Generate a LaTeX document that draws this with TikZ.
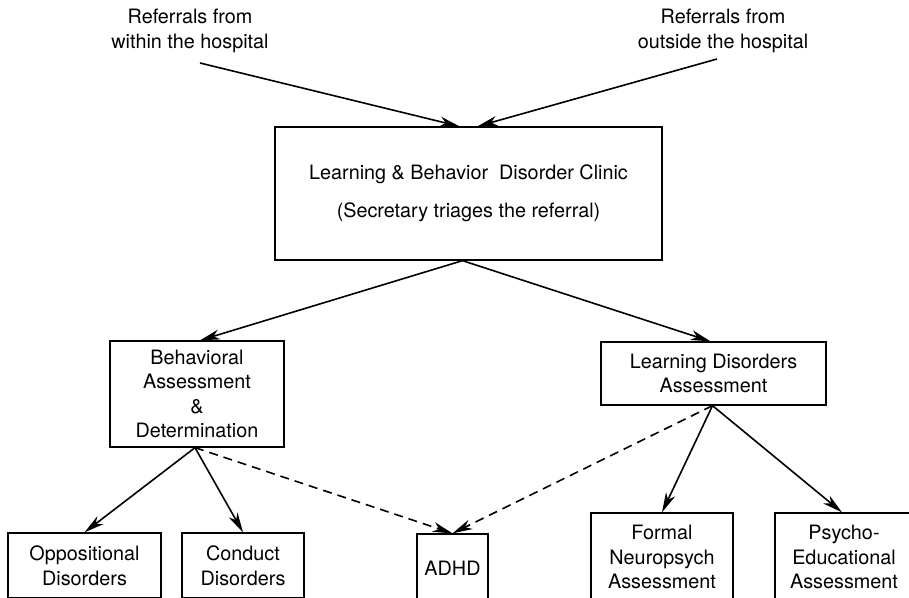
\documentclass[tikz,border=0pt]{standalone}
\usepackage{fontspec}
\setmainfont{TeX Gyre Heros}
\usetikzlibrary{arrows.meta}
\begin{document}
\begin{tikzpicture}[x=1pt,y=-1pt,
  txt/.style={font=\fontsize{19.8}{24.5}\selectfont, align=center, inner sep=0pt},
  box/.style={txt, draw, line width=1.3pt},
  conn/.style={line width=1.6pt, -{Stealth[length=20pt,width=10pt,inset=6pt]}},
  dconn/.style={conn, dash pattern=on 9pt off 6pt}]
\useasboundingbox (0,0) rectangle (909,597);
\clip (0,0) rectangle (909,597);
% top labels
\node[txt] (rw) at (190,31) {Referrals from\\within the hospital};
\node[txt] (ro) at (723,31) {Referrals from\\outside the hospital};
\coordinate (rws) at (200,63);
\coordinate (ros) at (717,59);
% main box
\node[box, minimum width=387pt, minimum height=133pt] (main) at (468.5,193.5)
  {Learning \& Behavior\ \ Disorder Clinic\\[13.5pt](Secretary triages the referral)};
% second level
\node[box, minimum width=174pt, minimum height=106pt] (beh) at (197,394)
  {Behavioral\\Assessment\\\&\\Determination};
\node[box, minimum width=225pt, minimum height=63pt] (ld) at (713.5,373.5)
  {Learning Disorders\\Assessment};
% bottom boxes
\node[box, minimum width=153pt, minimum height=65pt] (opp) at (84.5,565.5)
  {Oppositional\\Disorders};
\node[box, minimum width=122pt, minimum height=65pt] (con) at (243,565.5)
  {Conduct\\Disorders};
\node[box, minimum width=71pt, minimum height=68pt] (adhd) at (452.5,568)
  {ADHD};
\node[box, minimum width=142pt, minimum height=88pt] (form) at (662,557)
  {Formal\\Neuropsych\\Assessment};
\node[box, minimum width=138pt, minimum height=88pt] (psy) at (844,557)
  {Psycho-\\Educational\\Assessment};
% connectors
\draw[conn] (rws) -- ([xshift=-9pt]main.north);
\draw[conn] (ros) -- ([xshift=9pt]main.north);
\draw[conn] ([xshift=-6pt]main.south) -- ([xshift=3pt]beh.north);
\draw[conn] ([xshift=-6pt]main.south) -- ([xshift=-3pt]ld.north);
\draw[conn] ([xshift=-2pt]beh.south) -- (opp.north);
\draw[conn] ([xshift=-2pt]beh.south) -- (con.north);
\draw[dconn] ([xshift=-2pt]beh.south) -- (adhd.north);
\draw[dconn] ([xshift=-1pt]ld.south) -- (adhd.north);
\draw[conn] ([xshift=-1pt]ld.south) -- (form.north);
\draw[conn] ([xshift=-1pt]ld.south) -- ([xshift=-2pt]psy.north);
\end{tikzpicture}
\end{document}
